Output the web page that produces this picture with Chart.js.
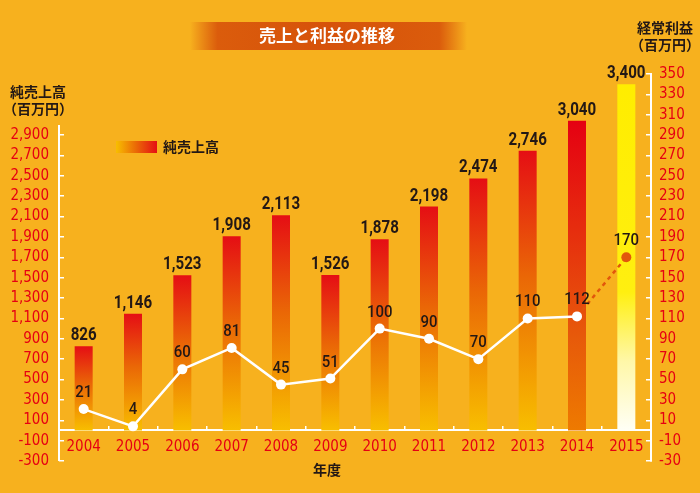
<!DOCTYPE html>
<html lang="ja">
<head>
<meta charset="utf-8">
<title>売上と利益の推移</title>
<script src="https://cdn.jsdelivr.net/npm/chart.js@4.4.1/dist/chart.umd.min.js"></script>
<style>
  html, body { margin: 0; padding: 0; background: #F7B11E; }
  #wrap { width: 700px; height: 493px; position: relative; }
</style>
</head>
<body>
<div id="wrap"><canvas id="chart"></canvas></div>
<script>
// --- data ---
const years = ["2004", "2005", "2006", "2007", "2008", "2009", "2010", "2011", "2012", "2013", "2014", "2015"];
const sales = [826, 1146, 1523, 1908, 2113, 1526, 1878, 2198, 2474, 2746, 3040, 3400];   // 純売上高
const profit = [21, 4, 60, 81, 45, 51, 100, 90, 70, 110, 112, 170];                       // 経常利益

// axis ranges (left: 百万円, right: 百万円)
const salesMin = -300, salesMax = 3500, salesStep = 200, salesLabelTop = 2900;
const profitMin = -30, profitMax = 350, profitStep = 20;

const BG = "#F7B11E";
const RED = "#E60012";
const INK = "#231815";
const NUM_FONT = '"Liberation Sans Narrow", "DejaVu Sans Condensed", sans-serif';
const LABEL_FONT = 'Roboto, "Noto Sans", sans-serif';
const JP_FONT = '"Noto Sans CJK JP", "Noto Sans", sans-serif';

/**
 * Bar fills - each bar gets its own vertical gradient
 */
function barFill(ctx) {
    const chart = ctx.chart;
    if (!chart.chartArea || ctx.type !== "data") return "#EC6D00";
    const y = chart.scales.y;
    const top = y.getPixelForValue(ctx.raw);
    const base = y.getPixelForValue(0);
    const g = chart.ctx.createLinearGradient(0, top, 0, base);
    if (ctx.dataIndex === years.length - 1) {
        g.addColorStop(0, "#FFED00");
        g.addColorStop(0.6, "#FFEF10");
        g.addColorStop(0.8, "#FFF7A8");
        g.addColorStop(1, "#FFFFF6");
    } else if (ctx.dataIndex === years.length - 2) {
        g.addColorStop(0, "#E50012");
        g.addColorStop(0.7, "#E75A0A");
        g.addColorStop(1, "#EE7A00");
    } else {
        g.addColorStop(0, "#E50E14");
        g.addColorStop(0.45, "#EA6706");
        g.addColorStop(1, "#F8BE00");
    }
    return g;
}

// draw text squeezed horizontally (the original uses a condensed face)
function narrowText(c, text, x, y, squeeze) {
    c.save();
    c.translate(x, y);
    c.scale(squeeze, 1);
    c.fillText(text, 0, 0);
    c.restore();
}

/**
 * Page decorations: background, title banner, axis titles, legend
 */
const decorPlugin = {
    id: "decor",
    beforeDraw(chart) {
        const c = chart.ctx;
        c.save();
        c.fillStyle = BG;
        c.fillRect(0, 0, chart.width, chart.height);

        // title banner
        const bx = 190, by = 22, bw = 277, bh = 28;
        const g = c.createLinearGradient(bx, 0, bx + bw, 0);
        g.addColorStop(0, "rgba(217,85,10,0)");
        g.addColorStop(0.1, "rgba(219,92,12,1)");
        g.addColorStop(0.5, "#D6520A");
        g.addColorStop(0.9, "rgba(219,92,12,1)");
        g.addColorStop(1, "rgba(217,85,10,0)");
        c.fillStyle = g;
        c.fillRect(bx, by, bw, bh);
        c.restore();
    },
    afterDraw(chart) {
        const c = chart.ctx;
        c.save();
        c.textAlign = "center";
        c.textBaseline = "middle";

        c.fillStyle = "#FFFFFF";
        c.font = "bold 17px " + JP_FONT;
        c.fillText("売上と利益の推移", 327, 36);

        c.fillStyle = INK;
        c.font = "bold 14px " + JP_FONT;
        c.fillText("純売上高", 38, 92);
        c.fillText("（百万円）", 38, 109);
        c.fillText("経常利益", 665, 28);
        c.fillText("（百万円）", 665, 45);
        c.fillText("年度", 327, 470);

        // legend
        const lg = c.createLinearGradient(116, 0, 157, 0);
        lg.addColorStop(0, "#F8BE00");
        lg.addColorStop(0.5, "#EA6706");
        lg.addColorStop(1, "#E50E14");
        c.fillStyle = lg;
        c.fillRect(116, 141, 41, 12);
        c.fillStyle = INK;
        c.textAlign = "left";
        c.fillText("純売上高", 163, 147);

        // left axis line stops near the top tick
        const y = chart.scales.y;
        c.strokeStyle = "#FFFFFF";
        c.lineWidth = 2;
        c.beginPath();
        c.moveTo(chart.chartArea.left, y.getPixelForValue(3000));
        c.lineTo(chart.chartArea.left, chart.chartArea.bottom);
        c.stroke();
        c.restore();
    }
};

/**
 * Value labels over bars and line points
 */
const valueLabels = {
    id: "valueLabels",
    afterDatasetsDraw(chart) {
        const c = chart.ctx;
        c.save();
        c.textAlign = "center";
        c.textBaseline = "alphabetic";
        c.fillStyle = INK;

        c.font = "bold 18px " + LABEL_FONT;
        chart.getDatasetMeta(1).data.forEach((el, i) => {
            narrowText(c, sales[i].toLocaleString("en-US"), el.x, el.y - 6, 0.84);
        });

        c.font = "500 17px " + LABEL_FONT;
        chart.getDatasetMeta(0).data.forEach((el, i) => {
            narrowText(c, String(profit[i]), el.x, el.y - 12, 0.88);
        });
        c.restore();
    }
};

const last = years.length - 1;

new Chart(document.getElementById("chart"), {
    data: {
        labels: years,
        datasets: [{
            type: "line",
            label: "経常利益",
            data: profit,
            yAxisID: "y1",
            order: 0,
            borderColor: "#FFFFFF",
            borderWidth: 2.5,
            tension: 0,
            pointRadius: 5,
            pointBorderWidth: 0,
            pointBackgroundColor: years.map((_, i) => i === last ? "#E2570C" : "#FFFFFF"),
            segment: {
                borderColor: ctx => ctx.p1DataIndex === last ? "#E2570C" : undefined,
                borderDash: ctx => ctx.p1DataIndex === last ? [4, 4] : undefined
            }
        }, {
            type: "bar",
            label: "純売上高",
            data: sales,
            yAxisID: "y",
            order: 1,
            backgroundColor: barFill,
            categoryPercentage: 1,
            barPercentage: 0.365
        }]
    },
    options: {
        responsive: true,
        maintainAspectRatio: false,
        animation: false,
        layout: { padding: { top: 74, bottom: 32, left: 0, right: 0 } },
        plugins: { legend: { display: false }, tooltip: { enabled: false } },
        scales: {
            x: {
                type: "category",
                position: { y: 0 },
                grid: { drawOnChartArea: false, offset: true, color: "#FFFFFF", lineWidth: 1.5, tickLength: -5 },
                border: { color: "#FFFFFF", width: 2 },
                ticks: { color: RED, font: { family: NUM_FONT, size: 15 }, padding: 13, maxRotation: 0 }
            },
            y: {
                position: "left",
                min: salesMin,
                max: salesMax,
                afterFit: s => { s.width = 59; },
                grid: { drawOnChartArea: false, color: "#FFFFFF", lineWidth: 1.5, tickLength: -5 },
                border: { display: false },
                ticks: {
                    stepSize: salesStep,
                    maxTicksLimit: 100,
                    autoSkip: false,
                    color: RED,
                    padding: 15,
                    font: { family: NUM_FONT, size: 15 },
                    callback: v => v > salesLabelTop ? null : v.toLocaleString("en-US")
                }
            },
            y1: {
                position: "right",
                min: profitMin,
                max: profitMax,
                afterFit: s => { s.width = 49; },
                grid: { drawOnChartArea: false, color: "#FFFFFF", lineWidth: 1.5, tickLength: -5 },
                border: { color: "#FFFFFF", width: 2 },
                ticks: {
                    stepSize: profitStep,
                    maxTicksLimit: 100,
                    autoSkip: false,
                    color: RED,
                    padding: 13,
                    font: { family: NUM_FONT, size: 15 }
                }
            }
        }
    },
    plugins: [decorPlugin, valueLabels]
});
</script>
</body>
</html>
